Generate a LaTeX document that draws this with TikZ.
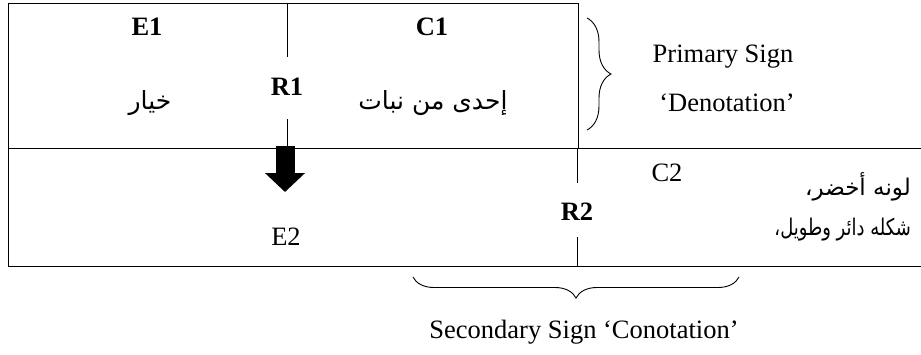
\documentclass[tikz,border=0pt]{standalone}
\usepackage{fontspec}
\setmainfont{Liberation Serif}
\newfontfamily\arabicfont[Script=Arabic]{DejaVu Sans}
\newfontfamily\arabicnarrow[Script=Arabic,FakeStretch=0.78]{DejaVu Sans}
\usetikzlibrary{arrows.meta,decorations.pathreplacing}
\TeXXeTstate=1
\begin{document}
\begin{tikzpicture}[x=1pt,y=-1pt,
  lbl/.style={inner sep=0pt,font=\fontsize{26.5}{30}\selectfont},
  blbl/.style={inner sep=0pt,font=\fontsize{26.5}{30}\selectfont\bfseries},
  arlbl/.style={inner sep=0pt,font=\arabicfont\fontsize{25}{30}\selectfont},
  arright/.style={inner sep=0pt,anchor=east,font=\arabicfont\fontsize{23}{27}\selectfont},
  arrightn/.style={inner sep=0pt,anchor=east,font=\arabicnarrow\fontsize{23}{27}\selectfont},
  rule/.style={line width=1pt},
  bracestyle/.style={line width=0.9pt,decorate,decoration={brace,amplitude=24pt}}]
\useasboundingbox (0,0) rectangle (921,354);
% top box
\draw[rule] (8,3) rectangle (578,148);
\draw[rule] (287,3) -- (287,57);
\draw[rule] (287,119) -- (287,148);
% bottom band
\draw[rule] (8,148) -- (921,148);
\draw[rule] (8,266) -- (921,266);
\draw[rule] (8,148) -- (8,266);
\draw[rule] (577,148) -- (577,183);
\draw[rule] (577,237) -- (577,266);
% texts
\node[blbl] (e1) at (147,27) {E1};
\node[blbl] (c1) at (432,27) {C1};
\node[blbl] (r1) at (287,87) {R1};
\node[arlbl] (ar1) at (150,103) {\beginR خيار\endR};
\node[arlbl] (ar2) at (433,103) {\beginR إحدى من نبات\endR};
\node[lbl] (ps) at (723,57) {Primary Sign};
\node[lbl] (dn) at (727,103) {`Denotation'};
\node[lbl] (e2) at (286,237) {E2};
\node[blbl] (r2) at (577,212) {R2};
\node[lbl] (c2) at (667,173) {C2};
\node[arright] (ar3) at (911,187) {\beginR لونه أخضر،\endR};
\node[arrightn] (ar4) at (911,230) {\beginR شكله دائر وطويل،\endR};
\node[lbl] (ss) at (584,332) {Secondary Sign `Conotation'};
% arrow
\coordinate (a1) at (285,146);
\coordinate (a2) at (285,192);
\draw[line width=19pt,-{Triangle[length=19pt,width=39pt]}] (a1) -- (a2);
% braces
\coordinate (b1t) at (587,18);
\coordinate (b1b) at (587,130);
\draw[bracestyle] (b1t) -- (b1b);
\coordinate (b2l) at (413,277);
\coordinate (b2r) at (739,277);
\draw[bracestyle,decoration={amplitude=21pt}] (b2r) -- (b2l);
\end{tikzpicture}
\end{document}
